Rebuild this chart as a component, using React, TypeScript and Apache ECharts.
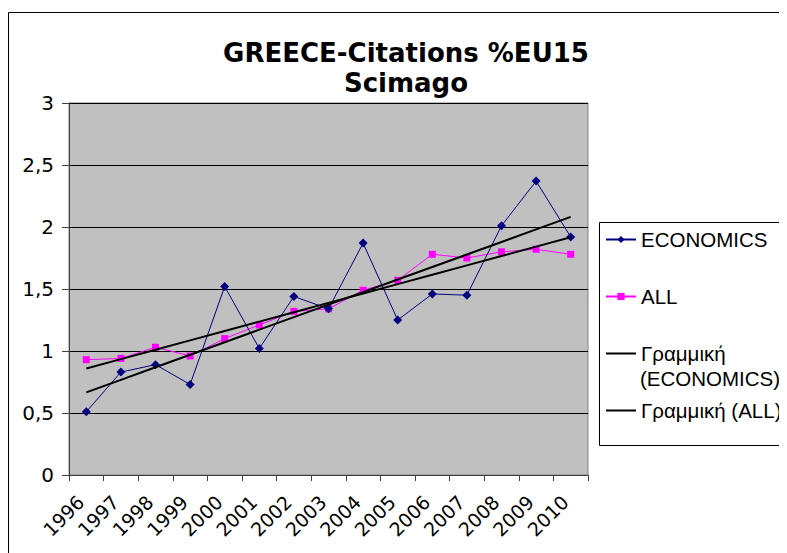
import React, { useEffect, useRef } from 'react';
import * as echarts from 'echarts';

const years = ['1996', '1997', '1998', '1999', '2000', '2001', '2002', '2003', '2004', '2005', '2006', '2007', '2008', '2009', '2010'];
const economics = [0.51, 0.83, 0.89, 0.73, 1.52, 1.02, 1.44, 1.34, 1.87, 1.25, 1.46, 1.45, 2.01, 2.37, 1.92];
const allFields = [0.93, 0.94, 1.03, 0.96, 1.10, 1.21, 1.32, 1.34, 1.49, 1.57, 1.78, 1.75, 1.80, 1.82, 1.78];

const NAME_ECO = 'ECONOMICS';
const NAME_ALL = 'ALL';
const NAME_TREND_ECO = 'Γραμμική (ECONOMICS)';
const NAME_TREND_ALL = 'Γραμμική (ALL)';

const FONT = 'DejaVu Sans';
const LEGEND_FONT = 'Liberation Sans';

function linearFit(values: number[]): number[] {
  const n = values.length;
  const mx = (n - 1) / 2;
  const my = values.reduce((a, b) => a + b, 0) / n;
  let sxy = 0;
  let sxx = 0;
  values.forEach((v, i) => {
    sxy += (i - mx) * (v - my);
    sxx += (i - mx) * (i - mx);
  });
  const slope = sxy / sxx;
  return values.map((_, i) => +(my + slope * (i - mx)).toFixed(4));
}

export default function App() {
  const ref = useRef<HTMLDivElement>(null);

  useEffect(() => {
    if (!ref.current) return;
    const chart = echarts.init(ref.current, undefined, { renderer: 'svg' });
    chart.setOption({
      animation: false,
      backgroundColor: '#fff',
      title: {
        text: 'GREECE-Citations %EU15\nScimago',
        left: 393,
        top: 25,
        textAlign: 'center',
        textStyle: { fontFamily: FONT, fontSize: 26, fontWeight: 'bold', color: '#000', lineHeight: 30 },
      },
      grid: {
        left: 61,
        top: 95,
        right: 199,
        bottom: 78,
        show: true,
        backgroundColor: '#C0C0C0',
        borderColor: '#808080',
        borderWidth: 1,
        containLabel: false,
      },
      xAxis: {
        type: 'category',
        data: years,
        boundaryGap: true,
        axisLine: { show: true, lineStyle: { color: '#404040', width: 1 } },
        axisTick: { show: true, length: 6, inside: false, alignWithLabel: false, lineStyle: { color: '#404040' } },
        axisLabel: {
          rotate: 45,
          margin: 18,
          padding: [0, 8, 0, 0],
          fontFamily: FONT,
          fontSize: 19,
          color: '#000',
          interval: 0,
        },
        splitLine: { show: false },
      },
      yAxis: {
        type: 'value',
        min: 0,
        max: 3,
        interval: 0.5,
        axisLine: { show: true, lineStyle: { color: '#404040', width: 1 } },
        axisTick: { show: true, length: 7, inside: false, lineStyle: { color: '#404040' } },
        axisLabel: {
          margin: 15,
          fontFamily: FONT,
          fontSize: 20,
          color: '#000',
          formatter: (v: number) => String(v).replace('.', ','),
        },
        splitLine: { show: true, lineStyle: { color: '#000', width: 1 } },
      },
      legend: {
        orient: 'vertical',
        left: 597,
        top: 221,
        padding: 0,
        itemGap: 36,
        itemWidth: 30,
        itemHeight: 9,
        selectedMode: false,
        textStyle: { fontFamily: LEGEND_FONT, fontSize: 20.5, lineHeight: 20, color: '#000' },
        formatter: (n: string) => (n === NAME_TREND_ECO ? 'Γραμμική' : n),
        data: [
          { name: NAME_ECO },
          { name: NAME_ALL },
          { name: NAME_TREND_ECO, itemStyle: { opacity: 0 } },
          { name: NAME_TREND_ALL, itemStyle: { opacity: 0 } },
        ],
      },
      graphic: [
        {
          type: 'rect',
          shape: { x: 0.5, y: 4.5, width: 900, height: 900 },
          style: { fill: 'none', stroke: '#000', lineWidth: 1 },
          silent: true,
          z: -1,
        },
        {
          type: 'rect',
          shape: { x: 591.5, y: 214.5, width: 300, height: 223 },
          style: { fill: 'none', stroke: '#000', lineWidth: 1 },
          silent: true,
        },
        {
          type: 'text',
          x: 632,
          y: 370,
          style: { text: '(ECONOMICS)', fontFamily: LEGEND_FONT, fontSize: 20.5, fill: '#000', verticalAlign: 'middle', align: 'left' },
          silent: true,
        },
      ],
      series: [
        {
          name: NAME_ECO,
          type: 'line',
          data: economics,
          symbol: 'diamond',
          symbolSize: 9,
          lineStyle: { color: '#000080', width: 1 },
          itemStyle: { color: '#000080' },
          z: 3,
        },
        {
          name: NAME_ALL,
          type: 'line',
          data: allFields,
          symbol: 'rect',
          symbolSize: 7,
          lineStyle: { color: '#FF00FF', width: 1 },
          itemStyle: { color: '#FF00FF' },
          z: 2,
        },
        {
          name: NAME_TREND_ECO,
          type: 'line',
          data: linearFit(economics),
          symbol: 'none',
          lineStyle: { color: '#000', width: 2 },
          itemStyle: { color: '#000' },
          z: 4,
        },
        {
          name: NAME_TREND_ALL,
          type: 'line',
          data: linearFit(allFields),
          symbol: 'none',
          lineStyle: { color: '#000', width: 2 },
          itemStyle: { color: '#000' },
          z: 4,
        },
      ],
    });
    return () => chart.dispose();
  }, []);

  return <div ref={ref} style={{ width: 779, height: 545 }} />;
}
